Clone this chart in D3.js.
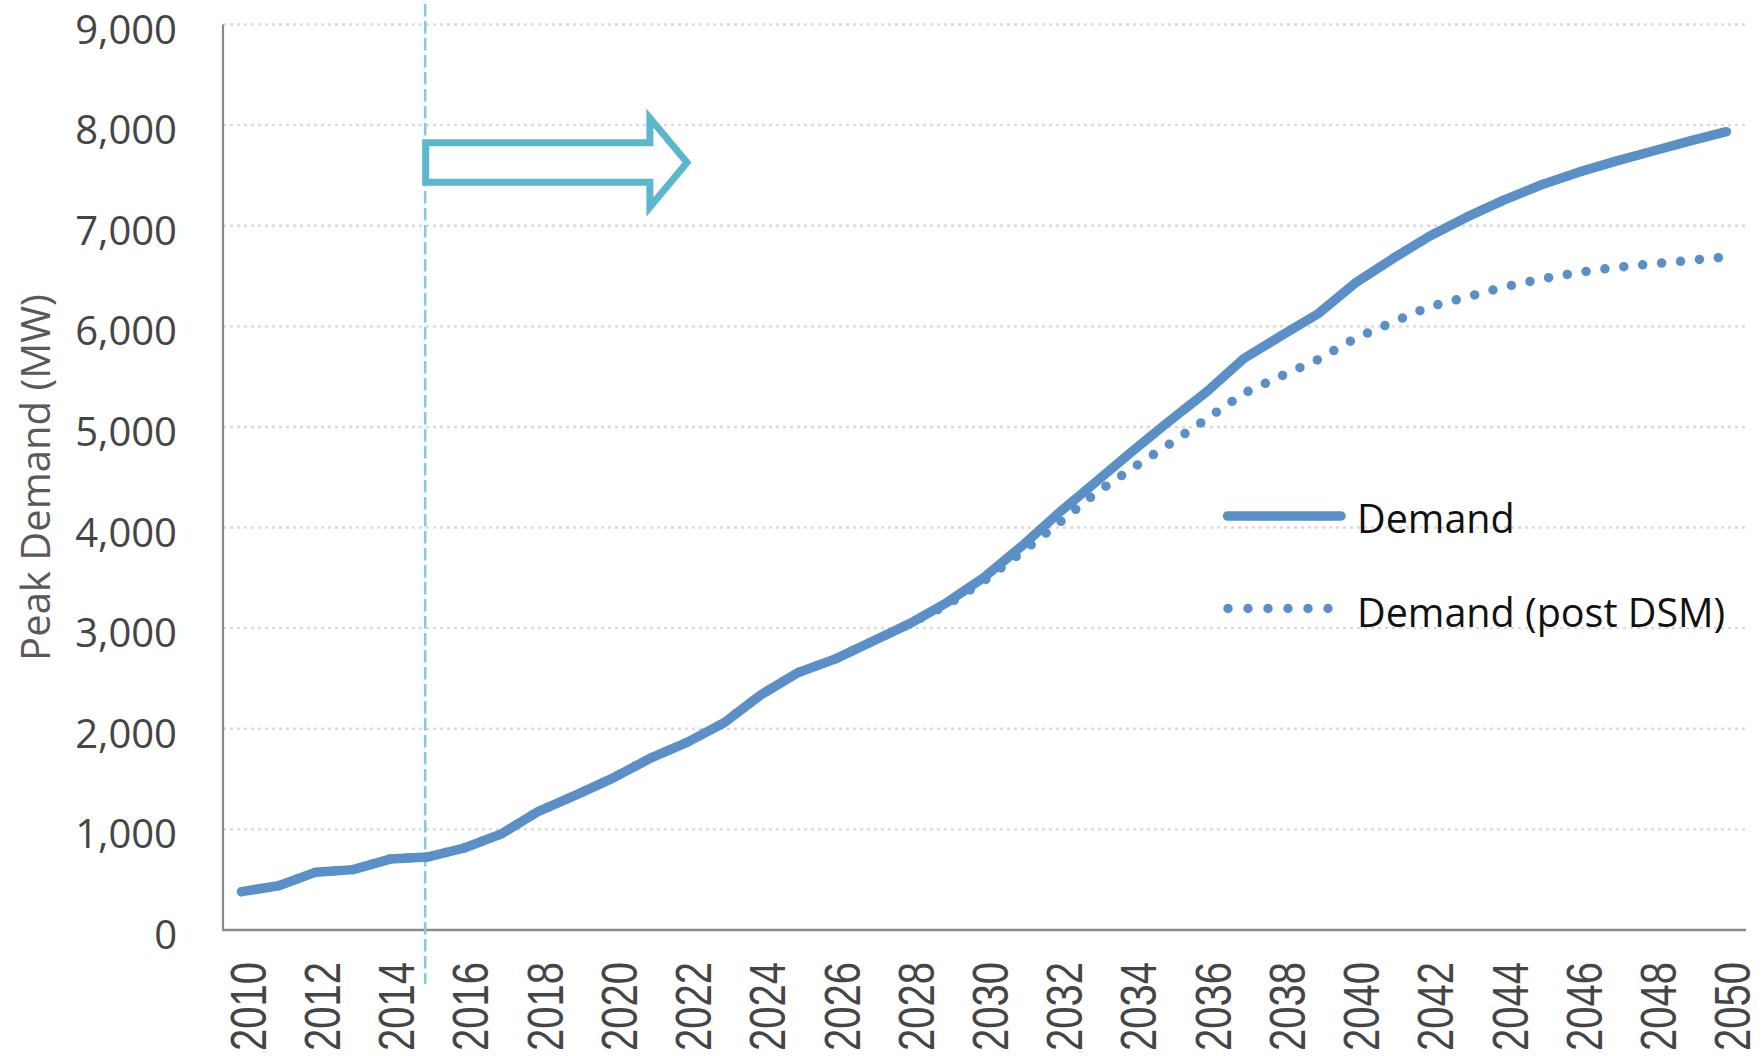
<!DOCTYPE html>
<html>
<head>
<meta charset="utf-8">
<script src="https://d3js.org/d3.v7.min.js"></script>
<style>
  html, body { margin: 0; padding: 0; background: #fff; }
  svg { display: block; }
</style>
</head>
<body>
<svg id="chart" width="1764" height="1056"></svg>
<script>
// ---------- data ----------
const years = [2010,2011,2012,2013,2014,2015,2016,2017,2018,2019,2020,2021,2022,2023,2024,2025,2026,2027,2028,2029,2030,
               2031,2032,2033,2034,2035,2036,2037,2038,2039,2040,2041,2042,2043,2044,2045,2046,2047,2048,2049,2050];
const demand = [381,440,575,600,705,725,815,955,1180,1340,1510,1705,1865,2060,2340,2560,2695,2870,3045,3255,3505,
                3810,4140,4450,4760,5060,5350,5680,5905,6125,6430,6670,6895,7085,7255,7405,7530,7640,7740,7840,7935];
const demandPostDSM = [381,440,575,600,705,725,815,955,1180,1340,1510,1705,1865,2060,2340,2560,2695,2870,3045,3230,3470,
                3750,4040,4340,4590,4830,5080,5335,5505,5670,5880,6040,6195,6290,6390,6470,6535,6585,6620,6655,6690];
const yTicks = [0,1000,2000,3000,4000,5000,6000,7000,8000,9000];
const xTickLabels = [2010,2012,2014,2016,2018,2020,2022,2024,2026,2028,2030,2032,2034,2036,2038,2040,2042,2044,2046,2048,2050];
const seriesNames = ["Demand", "Demand (post DSM)"];
const yTitle = "Peak Demand (MW)";
const markerYear = 2015;
// arrow annotation (in data units)
const arrowFromYear = 2015, arrowHeadYear = 2021, arrowTipYear = 2022;
const arrowLevel = 7628, arrowShaftHalf = 196, arrowHeadHalf = 442;

// ---------- layout ----------
const svg = d3.select("#chart");
const plotLeft = 223, plotRight = 1745, plotTop = 24.5, plotBottom = 930;
const lineColor = "#5a8fc8";

const x = d3.scaleBand().domain(years).range([plotLeft, plotRight]).padding(0);
const cx = d => x(d) + x.bandwidth() / 2;
const y = d3.scaleLinear().domain([0, 9000]).range([plotBottom, plotTop]);

// gridlines
svg.append("g").selectAll("line").data(yTicks.filter(t => t > 0)).join("line")
  .attr("x1", plotLeft).attr("x2", plotRight + 3)
  .attr("y1", d => y(d)).attr("y2", d => y(d))
  .attr("stroke", "#dadada").attr("stroke-width", 2.4)
  .attr("stroke-dasharray", "3 4");

// y axis labels
const yAxis = d3.axisLeft(y).tickValues(yTicks).tickFormat(d3.format(",")).tickSize(0).tickPadding(0);
const gy = svg.append("g").attr("transform", "translate(177,0)").call(yAxis);
gy.select(".domain").remove();
gy.selectAll("text")
  .attr("dy", "0.465em")
  .style("font-family", "'Open Sans', sans-serif")
  .style("font-size", "40px")
  .attr("fill", "#454545");

// x axis labels
const xAxis = d3.axisBottom(x).tickValues(xTickLabels).tickSize(0).tickPadding(0);
const gx = svg.append("g").attr("transform", `translate(0,${plotBottom})`).call(xAxis);
gx.select(".domain").remove();
gx.selectAll("text")
  .attr("y", 0).attr("dy", 0).attr("x", 0)
  .attr("text-anchor", "end")
  .attr("transform", "translate(24,32) rotate(-90) scale(1,1.24)")
  .style("font-family", "'Liberation Sans', Arial, sans-serif")
  .style("font-size", "40px")
  .attr("fill", "#454545");

// axis lines
svg.append("line").attr("x1", plotLeft).attr("x2", plotLeft)
  .attr("y1", plotTop).attr("y2", plotBottom + 1)
  .attr("stroke", "#8a8a8a").attr("stroke-width", 2.2);
svg.append("line").attr("x1", plotLeft).attr("x2", plotRight + 1)
  .attr("y1", plotBottom).attr("y2", plotBottom)
  .attr("stroke", "#8a8a8a").attr("stroke-width", 2.6);

// y title
svg.append("text")
  .attr("transform", "translate(50,477.5) rotate(-90)")
  .attr("text-anchor", "middle")
  .style("font-family", "'Open Sans', sans-serif")
  .style("font-size", "40px")
  .attr("fill", "#595959")
  .text(yTitle);

// vertical marker line
svg.append("line")
  .attr("x1", cx(markerYear) - 2).attr("x2", cx(markerYear) - 2)
  .attr("y1", 4).attr("y2", 984)
  .attr("stroke", "#84cbda").attr("stroke-width", 2.6)
  .attr("stroke-dasharray", "12.5 4.5");

// arrow
const ax0 = cx(arrowFromYear) - 1.5, axH = cx(arrowHeadYear), axT = cx(arrowTipYear);
const arrowPts = [
  [ax0, y(arrowLevel + arrowShaftHalf)],
  [axH, y(arrowLevel + arrowShaftHalf)],
  [axH, y(arrowLevel + arrowHeadHalf)],
  [axT, y(arrowLevel)],
  [axH, y(arrowLevel - arrowHeadHalf)],
  [axH, y(arrowLevel - arrowShaftHalf)],
  [ax0, y(arrowLevel - arrowShaftHalf)]
];
svg.append("path")
  .attr("d", d3.line()(arrowPts) + "Z")
  .attr("fill", "none").attr("stroke", "#5bb7cc").attr("stroke-width", 7)
  .attr("stroke-linejoin", "miter");

// series lines
const lineGen = d3.line().x((d, i) => cx(years[i])).y(d => y(d));
svg.append("path").attr("d", lineGen(demand))
  .attr("fill", "none").attr("stroke", lineColor).attr("stroke-width", 9.5)
  .attr("stroke-linejoin", "round").attr("stroke-linecap", "round");
svg.append("path").attr("d", lineGen(demandPostDSM))
  .attr("fill", "none").attr("stroke", lineColor).attr("stroke-width", 9.5)
  .attr("stroke-linecap", "round").attr("stroke-dasharray", "0 19");

// legend
const legend = svg.append("g");
legend.append("line").attr("x1", 1227.5).attr("x2", 1341).attr("y1", 516).attr("y2", 516)
  .attr("stroke", lineColor).attr("stroke-width", 9.5).attr("stroke-linecap", "round");
legend.append("line").attr("x1", 1228).attr("x2", 1328.5).attr("y1", 608.5).attr("y2", 608.5)
  .attr("stroke", lineColor).attr("stroke-width", 9.5).attr("stroke-linecap", "round")
  .attr("stroke-dasharray", "0 20");
legend.selectAll("text").data(seriesNames).join("text")
  .attr("x", 1357).attr("y", (d, i) => i === 0 ? 533 : 626.5)
  .style("font-family", "'Open Sans', sans-serif")
  .style("font-size", "39.5px")
  .attr("fill", "#111")
  .text(d => d);
</script>
</body>
</html>
